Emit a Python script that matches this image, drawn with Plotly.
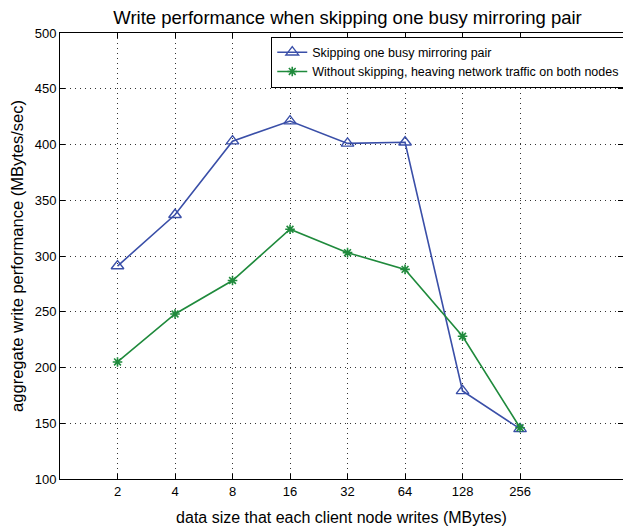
import math
import plotly.graph_objects as go

sizes = [2, 4, 8, 16, 32, 64, 128, 256]
tick_labels = ["2", "4", "8", "16", "32", "64", "128", "256"]
skipping = [291, 337, 403, 421, 401, 402, 179, 145]
no_skipping = [205, 248, 278, 324, 303, 288, 228, 146]

blue = "#3a4fa8"
green = "#1f8a3c"

fig = go.Figure()
fig.add_trace(go.Scatter(
    x=sizes, y=skipping, mode="lines+markers",
    name="Skipping one busy mirroring pair",
    line=dict(color=blue, width=1.6),
    marker=dict(symbol="triangle-up-open", size=11, color=blue, line=dict(width=1.4, color=blue)),
))
fig.add_trace(go.Scatter(
    x=sizes, y=no_skipping, mode="lines+markers",
    name="Without skipping, heaving network traffic on both nodes",
    line=dict(color=green, width=1.6),
    marker=dict(symbol="asterisk-open", size=8, color=green, line=dict(width=1.6, color=green)),
))

font_family = "Liberation Sans, Arial, Helvetica, sans-serif"
grid_dash = "1px,4px"
fig.update_layout(
    width=623, height=523,
    margin=dict(l=52, r=6, t=25, b=52),
    paper_bgcolor="white", plot_bgcolor="white",
    font=dict(family=font_family, size=13, color="black"),
    title=dict(text="Write performance when skipping one busy mirroring pair",
               x=0.545, xanchor="center", y=1 - 3 / 523, yanchor="top",
               pad=dict(t=0, b=0),
               font=dict(size=18.5, color="black")),
    showlegend=True,
    legend=dict(x=1.004, xanchor="right", y=0.992, yanchor="top",
                bgcolor="white", bordercolor="black", borderwidth=1,
                font=dict(size=12.5), tracegroupgap=0,
                itemwidth=30),
)
fig.update_xaxes(
    type="log", range=[0, 9.79 * math.log10(2)],
    tickvals=sizes, ticktext=tick_labels,
    ticks="inside", ticklen=5, tickcolor="black",
    showline=True, linecolor="black", linewidth=1, mirror="ticks",
    showgrid=True, gridcolor="#333333", griddash=grid_dash, gridwidth=1,
    zeroline=False, automargin=False,
    title=dict(text="data size that each client node writes (MBytes)", font=dict(size=16), standoff=14),
    tickfont=dict(size=13),
)
fig.update_yaxes(
    range=[100, 500], dtick=50,
    ticks="inside", ticklen=5, tickcolor="black",
    showline=True, linecolor="black", linewidth=1, mirror="ticks",
    showgrid=True, gridcolor="#333333", griddash=grid_dash, gridwidth=1,
    zeroline=False, automargin=False,
    title=dict(text="aggregate write performance (MBytes/sec)", font=dict(size=16.5), standoff=10),
    tickfont=dict(size=13),
)
fig.write_html("out.html")
